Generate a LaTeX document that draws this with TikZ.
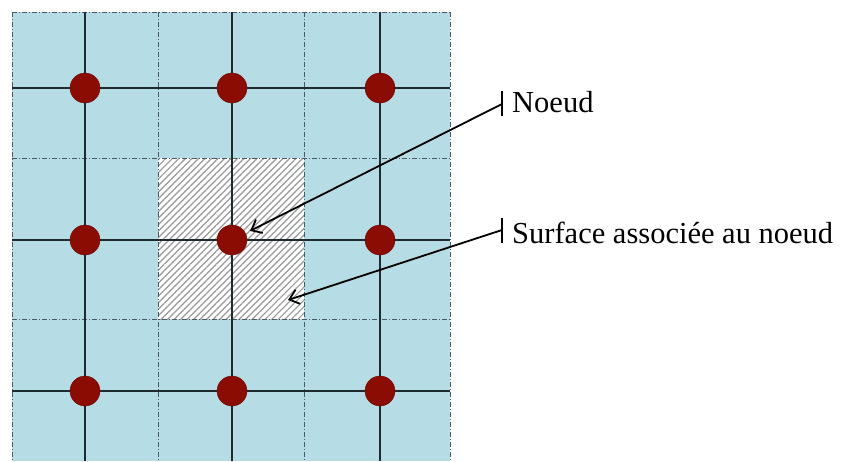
\documentclass[tikz,border=0pt]{standalone}
\usepackage{fontspec}
\setmainfont{Liberation Serif}
\usetikzlibrary{arrows.meta,patterns.meta}
\definecolor{cellblue}{HTML}{B6DDE5}
\definecolor{nodered}{HTML}{8A0C02}
\definecolor{gridline}{HTML}{1E2A2E}
\definecolor{dashgray}{HTML}{4A5A62}
\tikzset{
  cellsep/.style={draw=dashgray, line width=1pt, dash pattern=on 5pt off 2pt on 1pt off 2pt},
  gline/.style={draw=gridline, line width=2.4pt},
  gnode/.style={circle, fill=nodered, draw=nodered!80!black, line width=0.4pt, minimum size=30pt, inner sep=0pt},
  lbl/.style={anchor=base west, inner sep=0pt, font=\fontsize{30.5}{36}\selectfont},
  callout/.style={draw=black, line width=1.8pt, -{Straight Barb[length=9pt,width=15pt,line width=1.8pt]}},
  barmark/.style={draw=black, line width=1.6pt}
}
\begin{document}
\begin{tikzpicture}[x=1pt,y=-1pt]
\useasboundingbox (0,0) rectangle (843,461);
% blue background
\fill[cellblue] (12,12) rectangle (450,461);
% hatched area
\fill[white] (158,158) rectangle (304,319);
\fill[pattern={Lines[angle=45,distance=4.6pt,line width=1.2pt]}, pattern color=gray!80] (158,158) rectangle (304,319);
% dash-dot cell separators
\foreach \x in {12,158,304,450} \draw[cellsep] (\x,12) -- (\x,461);
\foreach \y in {12,158,319} \draw[cellsep] (12,\y) -- (450,\y);
% solid grid lines
\foreach \y in {88,240,391} \draw[gline] (12,\y) -- (450,\y);
\foreach \x in {85,232,380} \draw[gline] (\x,12) -- (\x,461);
% nodes
\node[gnode] (n11) at (85,88) {};
\node[gnode] (n12) at (232,88) {};
\node[gnode] (n13) at (380,88) {};
\node[gnode] (n21) at (85,240) {};
\node[gnode] (n22) at (232,240) {};
\node[gnode] (n23) at (380,240) {};
\node[gnode] (n31) at (85,391) {};
\node[gnode] (n32) at (232,391) {};
\node[gnode] (n33) at (380,391) {};
% labels
\node[lbl] (tnoeud) at (512,112) {Noeud};
\node[lbl] (tsurf) at (512,243) {Surface associée au noeud};
\coordinate (a1) at (502,104);
\coordinate (a2) at (502,230);
\coordinate (s1) at (288,300);
\draw[barmark] (502,91) -- (502,116);
\draw[barmark] (502,218) -- (502,243);
\draw[callout, shorten >=5pt] (a1) -- (n22);
\draw[callout] (a2) -- (s1);
\end{tikzpicture}
\end{document}
